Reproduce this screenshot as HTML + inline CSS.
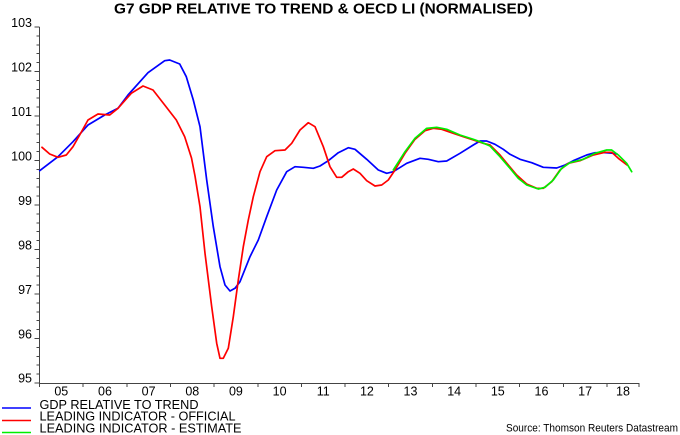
<!DOCTYPE html>
<html><head><meta charset="utf-8"><style>
html,body{margin:0;padding:0;background:#fff;}
svg{display:block;}
text{font-family:"Liberation Sans",Arial,sans-serif;fill:#000;}
</style></head><body>
<svg width="680" height="435" viewBox="0 0 680 435" xmlns="http://www.w3.org/2000/svg">
<rect width="680" height="435" fill="#fff"/>
<text x="114" y="13.5" font-size="14.5" font-weight="bold" textLength="419" lengthAdjust="spacingAndGlyphs">G7 GDP RELATIVE TO TREND &amp; OECD LI (NORMALISED)</text>

<g stroke="#444" stroke-width="1" fill="none" shape-rendering="crispEdges">
<line x1="39.5" y1="27" x2="39.5" y2="383.5"/>
<line x1="39.5" y1="383.5" x2="639.5" y2="383.5"/>
<path id="yt" d=""/>
</g>
<g id="ticks" stroke="#444" stroke-width="1" shape-rendering="crispEdges"></g>
<g id="ylab" font-size="12.5" text-anchor="end"></g>
<g id="xlab" font-size="12.5" text-anchor="middle"></g>

<g fill="none" stroke-width="1.7" stroke-linejoin="round" stroke-linecap="round">
<polyline stroke="#0000ff" points="39.7,170.7 58,156.7 73,141.7 88,125 104.7,115 118,108.3 128,95 148,72.7 164.7,60.7 169.7,60 179.7,64 186.3,76.7 193.3,100 200,126.7 206.7,180 213.3,226.7 220,266.7 225,285 230,291 235,288.3 240,281.7 250,256.7 258.3,240 266.7,216.7 276.7,190 286.7,171.7 295,166.7 303.3,167.3 313.3,168.3 320,166 328.3,160.7 338.3,152.7 348.3,147.7 355,149.3 366.7,159.3 378.3,170 386.7,173.3 393.3,171.7 406.7,163.3 420,158.3 428.3,159.3 438.3,161.7 446.7,161 460,153.3 473.3,145 480,141 486.7,141 495,144.3 503.3,149.3 510,154.3 520,159.3 531.7,162.7 543.3,167.3 556.7,168 565,165 573.3,160.7 586.7,155 595,152.7 605,152.7 613.3,153.3 617,154"/>
<polyline stroke="#ff0000" points="42,147.3 49.7,154 58,157.3 66.3,155 73,146.7 79.7,135 88,120 98,114 109.7,115 118,108.3 131.3,93.3 143,86 153,90 164.7,105 176.3,120 184.7,136.7 191.5,158 195,176 200,206.7 205,253.3 211.7,306.7 216.7,343.3 220,358.3 223.3,358.3 228.3,348.3 233.3,316.7 238.3,280 243.3,246.7 248.3,220 253.3,196.7 260,171.7 266.7,156.7 275,150.7 285,150 291.7,143.3 300,130 308.3,122.7 315,126.7 323.3,146.7 330,166.7 336.7,177.3 341.7,177.3 348.3,171.7 353.3,169 360,173.3 366.7,180.7 375,186 381.7,185 388.3,180 395,170 405,153.3 415,139.3 425,130.7 433.3,128.3 441.7,129.3 453.3,133.3 463.3,136.7 473.3,140 483.3,143.3 490,145 500,155 508.3,165 516.7,175 526.7,184 536.7,188.3 543.3,188.3 551.7,181.7 560,170 568.3,163.3 580,160.7 593.3,155 605,152.3 611.7,152.3 618.3,158.3 627,165"/>
<polyline stroke="#00ee00" points="393.3,170 405,151.7 415,138.3 426.7,128.3 436.7,127.3 446.7,129.3 460,135 473.3,139.3 480,141.7 490,146 500,156.7 510,168.3 518.3,178.3 526.7,185 538.3,189 545,187.3 553.3,180 561.7,168.3 570,162.7 583.3,159.3 595,153.3 606.7,150 611.7,150 618.3,155 626.7,163.3 631.7,171.7"/>
</g>

<g stroke-width="1.6">
<line x1="2" y1="408" x2="31" y2="408" stroke="#0000ff"/>
<line x1="2" y1="420.5" x2="31" y2="420.5" stroke="#ff0000"/>
<line x1="2" y1="432.5" x2="31" y2="432.5" stroke="#00ee00"/>
</g>
<g font-size="12.5">
<text x="39.5" y="409" textLength="159" lengthAdjust="spacingAndGlyphs">GDP RELATIVE TO TREND</text>
<text x="39.5" y="420.7" textLength="196" lengthAdjust="spacingAndGlyphs">LEADING INDICATOR - OFFICIAL</text>
<text x="39.5" y="432.4" textLength="202" lengthAdjust="spacingAndGlyphs">LEADING INDICATOR - ESTIMATE</text>
</g>
<text x="506" y="431.7" font-size="10.8" fill="#222" textLength="172" lengthAdjust="spacingAndGlyphs">Source: Thomson Reuters Datastream</text>

<g font-size="12.5" text-anchor="end">
<text x="32" y="27">103</text>
<text x="32" y="71.5">102</text>
<text x="32" y="116">101</text>
<text x="32" y="160.5">100</text>
<text x="32" y="205">99</text>
<text x="32" y="249.5">98</text>
<text x="32" y="294">97</text>
<text x="32" y="338.5">96</text>
<text x="32" y="382.5">95</text>
</g>
<g font-size="12.5" text-anchor="middle">
<text x="61.3" y="395.5">05</text>
<text x="105" y="395.5">06</text>
<text x="148.6" y="395.5">07</text>
<text x="192.3" y="395.5">08</text>
<text x="235.9" y="395.5">09</text>
<text x="279.6" y="395.5">10</text>
<text x="323.2" y="395.5">11</text>
<text x="366.9" y="395.5">12</text>
<text x="410.5" y="395.5">13</text>
<text x="454.2" y="395.5">14</text>
<text x="497.8" y="395.5">15</text>
<text x="541.5" y="395.5">16</text>
<text x="585.1" y="395.5">17</text>
<text x="623" y="395.5">18</text>
</g>
<g stroke="#444" stroke-width="1" shape-rendering="crispEdges">
<path d="M34.5 27H39.5M36.5 35.9H39.5M36.5 44.8H39.5M36.5 53.7H39.5M36.5 62.6H39.5
M34.5 71.5H39.5M36.5 80.4H39.5M36.5 89.3H39.5M36.5 98.2H39.5M36.5 107.1H39.5
M34.5 116H39.5M36.5 124.9H39.5M36.5 133.8H39.5M36.5 142.7H39.5M36.5 151.6H39.5
M34.5 160.5H39.5M36.5 169.4H39.5M36.5 178.3H39.5M36.5 187.2H39.5M36.5 196.1H39.5
M34.5 205H39.5M36.5 213.9H39.5M36.5 222.8H39.5M36.5 231.7H39.5M36.5 240.6H39.5
M34.5 249.5H39.5M36.5 258.4H39.5M36.5 267.3H39.5M36.5 276.2H39.5M36.5 285.1H39.5
M34.5 294H39.5M36.5 302.9H39.5M36.5 311.8H39.5M36.5 320.7H39.5M36.5 329.6H39.5
M34.5 338.5H39.5M36.5 347.4H39.5M36.5 356.3H39.5M36.5 365.2H39.5M36.5 374.1H39.5
M34.5 383H39.5"/>
<path d="M39.5 383V387M83.2 383V387M126.8 383V387M170.5 383V387M214.1 383V387M257.8 383V387M301.4 383V387M345.1 383V387M388.7 383V387M432.4 383V387M476 383V387M519.7 383V387M563.3 383V387M607 383V387M639 383V387"/>
</g>
</svg>
</body></html>
